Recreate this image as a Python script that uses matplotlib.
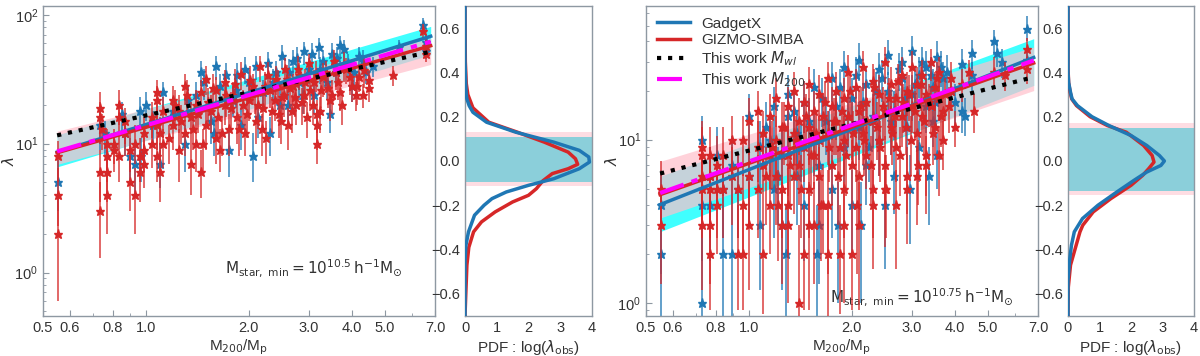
import numpy as np
import matplotlib
matplotlib.use('Agg')
from matplotlib import pyplot as plt
from matplotlib.ticker import FixedLocator, NullFormatter, LogLocator, FormatStrFormatter

plt.rcParams['font.family'] = ['Liberation Sans', 'DejaVu Sans']
plt.rcParams['mathtext.fontset'] = 'dejavusans'

# ---------------- left panel (Mstar,min = 10^10.5) ----------------
# GIZMO-SIMBA points: x, lambda, lower / upper end of error bar
rl_x = [0.554, 0.554, 0.554, 0.734, 0.734, 0.734, 0.734, 0.745, 0.771, 0.771, 0.771, 0.771,
        0.806, 0.806, 0.836, 0.836, 0.836, 0.868, 0.868, 0.90, 0.90, 0.929, 0.929, 0.96, 0.96,
        0.99, 0.99, 0.99, 1.039, 1.039, 1.075, 1.075, 1.075, 1.075, 1.10, 1.10, 1.124, 1.124,
        1.2, 1.2, 1.25, 1.25, 1.3, 1.3, 1.35, 1.35, 1.4, 1.4, 1.45, 1.45, 1.5, 1.5, 1.55, 1.6,
        1.6, 1.65, 1.7, 1.7, 1.75, 1.8, 1.85, 1.9, 1.95, 2.0, 2.05, 2.1, 2.15, 2.2, 2.25, 2.3,
        2.4, 2.45, 2.5, 2.55, 2.6, 2.7, 2.75, 2.8, 2.9, 2.95, 3.0, 3.1, 3.17, 3.17, 3.17, 3.25,
        3.35, 3.45, 3.55, 3.65, 3.75, 3.85, 4.0, 4.1, 4.2, 4.3, 4.5, 4.5, 5.28, 6.47, 6.6, 6.6,
        1.17, 1.22, 1.27, 1.32, 1.37, 1.42, 1.47, 1.52, 1.57, 1.62, 1.67, 1.72, 1.77, 1.82,
        1.87, 1.92, 1.97, 2.02, 2.08, 2.13, 2.18, 2.23, 2.28, 2.33, 2.38, 2.43, 2.48, 2.53,
        2.58, 2.63, 2.68, 2.73, 2.78, 2.85, 2.92, 3.02, 3.08, 3.14, 3.22, 3.3, 3.4, 3.5, 3.6,
        3.7, 3.8, 3.95, 4.15, 4.35]
rl_y = [8, 4, 2, 19, 16, 6, 3, 13, 10, 6, 4, 8,
        9, 10, 20, 16, 8, 12, 15, 5, 9, 4, 10, 8, 6,
        12, 9, 7, 16, 10, 25, 22, 14, 8, 6, 12, 18, 10,
        22, 14, 9, 18, 28, 12, 16, 7, 20, 10, 6, 25, 14, 32, 18, 11,
        26, 9, 20, 30, 13, 24, 16, 35, 12, 22, 28, 15, 40, 19, 11, 26,
        32, 17, 23, 38, 14, 28, 20, 34, 24, 16, 42, 30, 17, 14, 10, 26,
        36, 22, 44, 30, 20, 38, 28, 24, 33, 24, 31, 27, 34, 75, 57, 50,
        11, 20, 15, 24, 13, 17, 10, 21, 27, 16, 12, 24, 19, 29,
        13, 20, 17, 31, 25, 20, 13, 28, 34, 18, 22, 29, 15, 24,
        32, 27, 18, 23, 38, 21, 30, 26, 20, 35, 18, 33, 27, 24, 36,
        25, 41, 33, 28, 37]
rl_lo = [5, 2.3, 0.6, 13, 10, 3.5, 1.3, 9, 6, 3.5, 2, 5,
         6, 7, 14, 11, 5, 8, 10, 3, 6, 2, 7, 5, 3.5,
         8, 6, 4.5, 11, 6.5, 18, 15, 9, 5, 3.5, 8, 12, 6.5,
         15, 9, 5, 12, 20, 8, 10, 4, 14, 6, 3.8, 17, 9, 24, 12, 7,
         19, 6, 14, 22, 8, 17, 10, 26, 8, 15, 20, 10, 30, 13, 7, 19,
         24, 11, 16, 29, 9, 20, 14, 26, 17, 11, 32, 22, 12, 9, 7, 19,
         27, 15, 34, 22, 14, 29, 21, 18, 25, 19, 25, 21, 28, 65, 49, 43,
         7, 14, 10, 16, 9, 12, 6, 14, 18, 11, 8, 16, 13, 20,
         8, 14, 11, 21, 17, 13, 8, 19, 24, 12, 15, 20, 10, 16,
         22, 19, 12, 16, 27, 14, 21, 18, 14, 25, 12, 23, 19, 17, 26,
         18, 30, 24, 20, 27]
rl_hi = [10.5, 6.5, 4, 25, 21, 9, 5, 17, 13, 9, 6, 11,
         12, 13, 26, 21, 11, 16, 19, 8, 12, 6.5, 14, 11, 9,
         16, 12, 10, 21, 14, 31, 28, 18, 11, 9, 16, 23, 13,
         28, 19, 13, 24, 35, 16, 21, 10, 26, 14, 9, 31, 19, 40, 24, 15,
         33, 13, 26, 37, 17, 30, 21, 43, 17, 29, 35, 20, 48, 25, 15, 33,
         40, 22, 29, 46, 19, 35, 26, 42, 30, 21, 50, 37, 22, 18, 13, 33,
         44, 28, 53, 37, 26, 46, 35, 30, 40, 29, 37, 32, 40, 85, 65, 57,
         14, 26, 20, 31, 17, 22, 13, 27, 35, 21, 16, 31, 25, 38,
         17, 26, 22, 40, 32, 26, 17, 36, 43, 23, 29, 37, 20, 31,
         41, 35, 24, 30, 48, 27, 38, 33, 26, 44, 23, 42, 34, 31, 45,
         32, 51, 41, 35, 46]

# GadgetX points
bl_x = [0.554, 0.734, 0.76, 0.85, 0.87, 0.9, 0.93, 0.96, 0.97, 1.0, 1.05, 1.1, 1.12, 1.2,
        1.3, 1.4, 1.45, 1.55, 1.6, 1.65, 1.75, 1.8, 1.85, 1.9, 2.0, 2.05, 2.1, 2.2, 2.3, 2.4,
        2.5, 2.6, 2.7, 2.8, 2.9, 3.0, 3.1, 3.2, 3.3, 3.45, 3.5, 3.6, 3.7, 3.9, 4.0, 4.2, 4.4,
        4.6, 5.5, 6.47, 6.6, 6.6,
        1.33, 1.48, 1.58, 1.72, 1.83, 1.95, 2.12, 2.27, 2.36, 2.47, 2.62, 2.76, 2.88, 3.05,
        3.22, 3.38, 3.62, 3.8, 4.05, 4.3]
bl_y = [5, 14, 12, 17, 12, 8, 7, 18, 8, 20, 14, 7, 25, 18,
        10, 24, 36, 15, 40, 28, 9, 22, 34, 14, 30, 8, 40, 25, 12, 36,
        48, 20, 44, 30, 52, 38, 24, 56, 44, 17, 50, 36, 58, 42, 28, 48, 36,
        40, 56, 84, 62, 52,
        22, 30, 12, 34, 26, 38, 16, 42, 30, 20, 36, 46, 24, 50,
        38, 30, 46, 54, 36, 44]
bl_lo = [3, 9, 8, 12, 8, 5, 4, 13, 5, 15, 10, 4.5, 19, 13,
         6, 17, 28, 10, 31, 21, 5.5, 16, 26, 9, 22, 5, 31, 18, 8, 28,
         38, 14, 34, 22, 41, 29, 17, 45, 34, 12, 40, 28, 47, 33, 21, 39, 29,
         33, 48, 73, 54, 45,
         16, 22, 8, 26, 19, 29, 11, 32, 22, 14, 27, 36, 17, 39,
         29, 22, 36, 43, 28, 35]
bl_hi = [7.5, 18, 15, 21, 16, 11, 10, 23, 11, 25, 18, 10, 30, 23,
         14, 30, 44, 20, 48, 35, 13, 28, 42, 19, 37, 12, 48, 31, 16, 44,
         58, 26, 53, 37, 62, 46, 30, 66, 53, 22, 60, 44, 68, 50, 35, 56, 43,
         47, 64, 95, 70, 59,
         28, 38, 16, 42, 33, 47, 21, 51, 38, 26, 45, 56, 31, 60,
         47, 38, 56, 64, 44, 53]

# ---------------- right panel (Mstar,min = 10^10.75) ----------------
rr_x = [0.553, 0.553, 0.728, 0.728, 0.728, 0.728, 0.728, 0.77, 0.77, 0.77, 0.77, 0.77,
        0.805, 0.805, 0.805, 0.84, 0.84, 0.89, 0.89, 0.93, 0.93, 0.96, 0.96, 0.96,
        1.0, 1.0, 1.0, 1.06, 1.06, 1.06, 1.1, 1.1, 1.1, 1.15, 1.15, 1.15, 1.2, 1.2, 1.2,
        1.25, 1.25, 1.25, 1.3, 1.3, 1.3, 1.35, 1.35, 1.35, 1.4, 1.4, 1.4, 1.45, 1.45, 1.45,
        1.5, 1.5, 1.5, 1.55, 1.55, 1.55, 1.6, 1.6, 1.6, 1.65, 1.65, 1.7, 1.7, 1.7, 1.75, 1.75,
        1.8, 1.8, 1.85, 1.85, 1.9, 1.9, 1.9, 1.95, 1.95, 2.0, 2.0, 2.0, 2.05, 2.05, 2.1, 2.1,
        2.15, 2.15, 2.2, 2.2, 2.3, 2.3, 2.3, 2.4, 2.4, 2.5, 2.5, 2.5, 2.6, 2.6, 2.7, 2.7,
        2.8, 2.8, 2.9, 2.9, 3.0, 3.0, 3.1, 3.1, 3.2, 3.2, 3.3, 3.3, 3.4, 3.4, 3.5, 3.5,
        3.6, 3.6, 3.7, 3.7, 3.9, 3.9, 4.0, 4.2, 4.4, 4.55, 5.2, 5.6, 6.48, 6.48,
        1.12, 1.17, 1.22, 1.27, 1.32, 1.37, 1.42, 1.47, 1.52, 1.57, 1.62, 1.67, 1.72, 1.77,
        1.82, 1.87, 1.92, 1.97, 2.02, 2.07, 2.12, 2.17, 2.22, 2.27, 2.32, 2.37, 2.42, 2.47,
        2.52, 2.57, 2.62, 2.67, 2.72, 2.77, 2.82, 2.87, 2.93, 2.98, 3.05, 3.12, 3.18, 3.25,
        3.35, 3.45, 3.55, 3.65, 3.75, 3.85, 1.3, 1.5, 1.7, 1.9, 2.1, 2.3, 2.5, 2.7, 2.9,
        3.1, 3.3, 3.6]
rr_y = [5, 3, 9, 8, 6, 5, 3, 8, 6, 5, 3, 2,
        7, 5, 4, 8, 5, 10, 6, 5, 2, 10, 4, 2,
        13, 6, 3, 15, 9, 5, 11, 7, 2, 14, 8, 4, 18, 10, 6,
        12, 5, 3, 16, 8, 4, 20, 11, 6, 13, 7, 1, 17, 9, 2,
        22, 12, 5, 15, 8, 3, 10, 19, 6, 14, 4, 24, 11, 2, 16, 7,
        13, 20, 9, 2, 18, 10, 5, 26, 14, 12, 7, 2, 21, 9, 15, 6,
        28, 11, 17, 8, 23, 13, 5, 19, 10, 30, 15, 7, 22, 12, 18, 9,
        25, 14, 20, 6, 16, 28, 11, 22, 25, 14, 19, 8, 30, 16, 21, 12,
        26, 18, 15, 10, 24, 20, 12, 22, 26, 15, 26, 25, 36, 27,
        6, 9, 4, 12, 7, 10, 5, 14, 8, 11, 4, 17, 9, 13,
        6, 15, 8, 20, 11, 4, 16, 10, 13, 7, 21, 12, 9, 16,
        5, 18, 11, 14, 23, 8, 17, 12, 19, 10, 15, 7, 22, 13,
        17, 11, 24, 14, 19, 16, 3, 3, 4, 3, 3, 4, 5, 4, 5,
        6, 7, 8]
rr_lo = [3, 1.3, 5.5, 5, 3, 2.5, 1.2, 4.5, 3, 2.5, 1.3, 0.9,
         4, 2.5, 2, 4.5, 2.5, 6, 3, 2.5, 0.9, 6, 2, 0.9,
         8, 3, 1.2, 9, 5.5, 2.5, 6.5, 4, 0.85, 9, 5, 2, 12, 6, 3,
         7.5, 2.5, 1.3, 10, 4.5, 2, 13, 7, 3.5, 8, 4, 0.4, 11, 5.5, 0.9,
         15, 7, 2.5, 10, 5, 1.3, 6, 13, 3, 9, 2, 17, 7, 0.5, 10, 4,
         8, 14, 5.5, 0.85, 12, 6, 2.5, 18, 9, 7.5, 4, 0.9, 14, 5.5, 10, 3,
         20, 7, 11, 5, 16, 8, 2.5, 13, 6, 22, 10, 4, 15, 8, 12, 5.5,
         18, 9, 14, 3.5, 11, 20, 7, 16, 18, 9, 13, 4.5, 23, 11, 15, 8,
         19, 13, 10, 6.5, 18, 15, 9, 17, 21, 11, 21, 20, 30, 22,
         3, 5, 1.8, 7, 4, 6, 2.5, 9, 4.5, 6.5, 1.8, 11, 5.5, 8,
         3, 10, 4.5, 13, 7, 1.5, 10, 6, 8, 4, 14, 7.5, 5.5, 10,
         2.5, 12, 7, 9, 16, 4.5, 11, 8, 13, 6, 10, 4, 15, 8,
         12, 7, 17, 9, 13, 11, 1.0, 0.9, 1.5, 1.0, 0.9, 1.6, 2.2, 1.6, 2.3,
         3, 3.5, 4.5]
rr_hi = [7.4, 5, 13, 12, 9, 8, 5.5, 12, 9, 8, 5.5, 4,
         10.5, 8, 6.5, 12, 8, 14, 9, 8, 4, 14, 6.5, 4,
         18, 9, 5.5, 20, 13, 8, 15, 10.5, 4, 19, 12, 6.5, 24, 14, 9,
         17, 8, 5.5, 21, 12, 6.5, 26, 15, 9, 18, 10.5, 3, 23, 13, 4,
         28, 17, 8, 20, 12, 5.5, 14, 25, 9, 19, 7, 30, 15, 4, 21, 10.5,
         18, 26, 13, 4, 24, 14, 8, 33, 19, 17, 10, 4, 27, 13, 20, 9,
         35, 15, 23, 12, 29, 18, 8, 25, 14, 37, 20, 10.5, 28, 16, 24, 13,
         32, 19, 26, 9, 21, 35, 15, 28, 31, 18, 24, 12, 36, 21, 26, 16,
         32, 23, 19, 13, 30, 25, 15, 27, 31, 19, 32, 30, 42, 32,
         9, 13, 6.5, 17, 10.5, 14, 8, 19, 12, 15, 6.5, 23, 13, 18,
         9, 20, 12, 26, 15, 6.5, 21, 14, 18, 10.5, 27, 17, 13, 21,
         8, 24, 15, 19, 29, 12, 22, 16, 25, 14, 20, 10, 28, 18,
         22, 15, 30, 19, 24, 21, 5.5, 5.5, 6.5, 5.5, 5.5, 6.5, 8, 6.5, 8,
         9, 10.5, 12]

br_x = [0.553, 0.553, 0.728, 0.728, 0.728, 0.77, 0.77, 0.805, 0.84, 0.84, 0.89, 0.89, 0.93,
        1.0, 1.0, 1.08, 1.08, 1.12, 1.18, 1.18, 1.25, 1.25, 1.3, 1.3, 1.38, 1.38, 1.45, 1.45,
        1.55, 1.55, 1.6, 1.6, 1.68, 1.75, 1.75, 1.8, 1.9, 1.9, 2.0, 2.0, 2.1, 2.1, 2.2, 2.2,
        2.3, 2.4, 2.4, 2.55, 2.55, 2.65, 2.65, 2.8, 2.8, 2.9, 3.0, 3.0, 3.15, 3.15, 3.3, 3.3,
        3.45, 3.45, 3.55, 3.55, 3.7, 3.9, 4.0, 4.2, 4.2, 4.28, 4.5, 4.5, 5.2, 5.3, 5.5, 6.48, 6.48,
        1.15, 1.22, 1.35, 1.42, 1.5, 1.63, 1.72, 1.85, 1.95, 2.05, 2.15, 2.25, 2.35, 2.45,
        2.6, 2.75, 2.85, 3.05, 3.2, 3.4, 3.5, 3.65, 3.8, 1.28, 1.58, 1.82, 2.12, 2.5, 2.95, 3.35]
br_y = [4, 2, 10, 4, 1, 4, 6, 8, 5, 2, 2, 7, 5,
        6, 14, 3, 9, 12, 5, 16, 8, 3, 14, 19, 6, 11, 4, 17,
        10, 21, 7, 3, 13, 5, 24, 16, 9, 28, 18, 4, 12, 31, 22, 7,
        14, 27, 10, 20, 33, 15, 6, 24, 30, 12, 19, 35, 25, 9, 16, 28,
        21, 13, 32, 8, 24, 20, 17, 29, 15, 14, 34, 25, 40, 34, 30, 48, 31,
        10, 6, 15, 9, 13, 18, 11, 21, 14, 25, 17, 9, 20, 24,
        13, 27, 18, 22, 30, 25, 17, 28, 26, 2, 2, 3, 3, 4, 5, 6]
br_lo = [1.5, 0.7, 6, 1.8, 0.5, 1.8, 3, 4.5, 2.5, 0.7, 0.7, 4, 2.5,
         3, 9, 1.2, 5.5, 7.5, 2.5, 10, 4.5, 1.2, 9, 13, 3, 7, 1.8, 11,
         6, 14, 4, 1.3, 8, 2.5, 17, 10, 5.5, 20, 12, 2, 7.5, 23, 15, 4,
         9, 19, 6, 14, 25, 10, 3.5, 17, 22, 7.5, 13, 27, 18, 5.5, 11, 21,
         15, 9, 25, 5, 18, 15, 12, 23, 11, 10.5, 27, 20, 33, 28, 24, 40, 26,
         6, 3, 9.5, 5.5, 8, 12, 6.5, 14, 9, 18, 11, 5.5, 14, 17,
         8, 20, 12, 16, 22, 18, 11, 21, 19, 0.6, 0.6, 1.0, 1.0, 1.6, 2.3, 3]
br_hi = [6.5, 4, 14, 6.5, 2.5, 6.5, 9, 12, 8, 4, 4, 10.5, 8,
         9, 19, 5.5, 13, 17, 8, 21, 12, 5.5, 19, 25, 9, 15, 6.5, 23,
         14, 27, 10.5, 5.5, 18, 8, 30, 21, 13, 35, 24, 6.5, 17, 39, 28, 10.5,
         19, 34, 14, 26, 41, 20, 9, 30, 37, 17, 25, 43, 32, 13, 21, 35,
         27, 17, 40, 11, 30, 26, 22, 36, 19, 18, 41, 30, 47, 41, 36, 57, 36,
         14, 9, 20, 13, 18, 24, 15, 27, 19, 32, 22, 13, 26, 31,
         18, 34, 24, 28, 37, 32, 22, 35, 33, 4, 4, 5.5, 5.5, 6.5, 8, 9]

# fit lines and bands, given at the two ends of the mass range
fit_x = [0.55, 6.8]
l_gx_fit = [8.6, 68.1]
l_gz_fit = [8.5, 57.5]
l_wl_fit = [11.6, 51.7]
l_m200_fit = [8.7, 61.9]
l_gx_lo, l_gx_hi = [6.6, 49.0], [11.7, 81.3]
l_gz_lo, l_gz_hi = [6.9, 41.2], [12.5, 65.7]

r_gx_fit = [4.0, 31.9]
r_gz_fit = [4.6, 29.5]
r_wl_fit = [6.2, 24.2]
r_m200_fit = [4.71, 30.6]
r_gx_lo, r_gx_hi = [2.73, 21.5], [5.96, 41.6]
r_gz_lo, r_gz_hi = [3.31, 20.0], [7.36, 37.0]

# PDFs of log(lambda_obs) residuals
pdf_l_gx_y = [0.70, 0.45, 0.35, 0.30, 0.28, 0.25, 0.22, 0.175, 0.13, 0.085, 0.048, 0.018,
              -0.005, -0.035, -0.08, -0.11, -0.14, -0.17, -0.20, -0.245, -0.32, -0.38, -0.45, -0.70]
pdf_l_gx_x = [0, 0, 0.02, 0.04, 0.06, 0.13, 0.25, 0.68, 1.6, 2.8, 3.6, 3.9,
              3.92, 3.6, 2.8, 2.0, 1.3, 0.85, 0.6, 0.3, 0.11, 0.03, 0, 0]
pdf_l_gz_y = [0.70, 0.45, 0.35, 0.30, 0.24, 0.175, 0.13, 0.085, 0.04, 0.01, -0.015, -0.035,
              -0.057, -0.09, -0.125, -0.155, -0.185, -0.23, -0.275, -0.32, -0.39, -0.47, -0.62, -0.70]
pdf_l_gz_x = [0, 0.01, 0.04, 0.09, 0.25, 0.75, 1.65, 2.5, 3.25, 3.48, 3.55, 3.25,
              2.75, 2.45, 2.25, 2.0, 1.5, 0.95, 0.52, 0.27, 0.12, 0.06, 0.02, 0]
pdf_r_gx_y = [0.70, 0.40, 0.354, 0.31, 0.28, 0.25, 0.20, 0.16, 0.115, 0.07, 0.025, 0.0,
              -0.02, -0.05, -0.087, -0.14, -0.20, -0.26, -0.32, -0.38, -0.45, -0.54, -0.70]
pdf_r_gx_x = [0, 0, 0.02, 0.08, 0.13, 0.3, 0.76, 1.3, 2.0, 2.5, 2.9, 3.06,
              2.95, 2.5, 2.1, 1.55, 0.95, 0.46, 0.2, 0.11, 0.05, 0, 0]
pdf_r_gz_y = [0.70, 0.42, 0.354, 0.31, 0.28, 0.25, 0.20, 0.16, 0.13, 0.07, 0.025, -0.005,
              -0.035, -0.065, -0.11, -0.17, -0.23, -0.29, -0.32, -0.36, -0.41, -0.47, -0.57, -0.70]
pdf_r_gz_x = [0, 0, 0.02, 0.07, 0.12, 0.27, 0.7, 1.25, 1.85, 2.4, 2.67, 2.73,
              2.56, 2.37, 2.0, 1.36, 0.8, 0.47, 0.38, 0.3, 0.2, 0.08, 0.01, 0]
l_band_outer, l_band_inner = [-0.115, 0.13], [-0.095, 0.11]
r_band_outer, r_band_inner = [-0.153, 0.17], [-0.135, 0.148]

xtick_major = [0.5, 0.6, 0.8, 1.0, 2.0, 3.0, 4.0, 5.0, 7.0]
xtick_minor = [0.7, 0.9, 6.0]

BLUE = '#1f77b4'
RED = '#d62728'
SPINE = '#8e98a2'
TXT = '#333333'


def style(ax):
    for s in ax.spines.values():
        s.set_color(SPINE)
        s.set_linewidth(1.0)
    ax.tick_params(which='both', direction='in', colors=SPINE, labelcolor=TXT, labelsize=10.5)
    ax.tick_params(which='major', length=4)
    ax.tick_params(which='minor', length=2.5)


def scatter_panel(ax, bx, by, blo, bhi, rx, ry, rlo, rhi, fits, bands, ylim, note, note_xy):
    gfit, zfit, wfit, mfit = fits
    glo, ghi, zlo, zhi = bands
    ax.fill_between(fit_x, glo, ghi, color='cyan', alpha=0.75, lw=0, zorder=1)
    ax.fill_between(fit_x, zlo, zhi, color='pink', alpha=0.7, lw=0, zorder=1)
    by = np.array(by, float)
    ry = np.array(ry, float)
    ax.errorbar(bx, by, yerr=[by - np.array(blo), np.array(bhi) - by], fmt='none',
                ecolor=BLUE, elinewidth=1.4, alpha=0.7, zorder=2)
    ax.plot(bx, by, '*', color=BLUE, ms=6.5, zorder=3)
    ax.errorbar(rx, ry, yerr=[ry - np.array(rlo), np.array(rhi) - ry], fmt='none',
                ecolor=RED, elinewidth=1.4, alpha=0.7, zorder=4)
    ax.plot(rx, ry, '*', color=RED, ms=6.5, zorder=5)
    ax.plot(fit_x, gfit, '-', color=BLUE, lw=2.5, zorder=6, label='GadgetX')
    ax.plot(fit_x, zfit, '-', color=RED, lw=2.5, zorder=6, label='GIZMO-SIMBA')
    ax.plot(fit_x, wfit, ':', color='black', lw=3, zorder=7, label=r'This work $M_{wl}$')
    ax.plot(fit_x, mfit, color='magenta', lw=3, ls=(0, (6, 2, 1.5, 2)), zorder=7,
            label=r'This work $M_{200}$')
    ax.set_xscale('log')
    ax.set_yscale('log')
    ax.set_xlim(0.5, 7.0)
    ax.set_ylim(*ylim)
    ax.xaxis.set_major_locator(FixedLocator(xtick_major))
    ax.xaxis.set_major_formatter(FormatStrFormatter('%.1f'))
    ax.xaxis.set_minor_locator(FixedLocator(xtick_minor))
    ax.xaxis.set_minor_formatter(NullFormatter())
    ax.yaxis.set_major_locator(LogLocator(base=10))
    ax.yaxis.set_minor_locator(LogLocator(base=10, subs=np.arange(2, 10)))
    ax.yaxis.set_minor_formatter(NullFormatter())
    style(ax)
    ax.set_xlabel(r'M$_{200}$/M$_{\rm p}$', color=TXT, fontsize=11, labelpad=2)
    ax.set_ylabel(r'$\lambda$', color=TXT, fontsize=11)
    ax.yaxis.set_label_coords(-0.066, 0.5)
    ax.text(note_xy[0], note_xy[1], note, transform=ax.transAxes, ha='right', va='center',
            color=TXT, fontsize=11)


def pdf_panel(ax, gx_x, gx_y, gz_x, gz_y, outer, inner):
    ax.fill_between([0, 4], outer[0], outer[1], color='#fedde3', lw=0, zorder=1)
    ax.fill_between([0, 4], inner[0], inner[1], color='#8bcfda', lw=0, zorder=2)
    ax.plot(gz_x, gz_y, color=RED, lw=2.5, zorder=3)
    ax.plot(gx_x, gx_y, color=BLUE, lw=2.5, zorder=4)
    ax.set_xlim(0, 4)
    ax.set_ylim(-0.7, 0.7)
    ax.set_xticks([0, 1, 2, 3, 4])
    ax.set_yticks([-0.6, -0.4, -0.2, 0.0, 0.2, 0.4, 0.6])
    ax.set_yticklabels(['\u22120.6', '\u22120.4', '\u22120.2', '0.0', '0.2', '0.4', '0.6'])
    style(ax)
    ax.tick_params(which='major', length=0)
    ax.set_xlabel(r'PDF : log($\lambda_{\rm obs}$)', color=TXT, fontsize=11, labelpad=2)


fig = plt.figure(figsize=(12, 3.56), dpi=100)
ax1 = fig.add_axes([0.0358, 0.1124, 0.3267, 0.8708])
ax2 = fig.add_axes([0.3875, 0.1124, 0.1058, 0.8708])
ax3 = fig.add_axes([0.5383, 0.1124, 0.3267, 0.8708])
ax4 = fig.add_axes([0.8900, 0.1124, 0.1050, 0.8708])

scatter_panel(ax1, bl_x, bl_y, bl_lo, bl_hi, rl_x, rl_y, rl_lo, rl_hi,
              (l_gx_fit, l_gz_fit, l_wl_fit, l_m200_fit),
              (l_gx_lo, l_gx_hi, l_gz_lo, l_gz_hi), (0.46, 117),
              r'$\mathrm{M_{star,\ min}=10^{10.5}\,h^{-1}M_{\odot}}$', (0.918, 0.155))
pdf_panel(ax2, pdf_l_gx_x, pdf_l_gx_y, pdf_l_gz_x, pdf_l_gz_y, l_band_outer, l_band_inner)

scatter_panel(ax3, br_x, br_y, br_lo, br_hi, rr_x, rr_y, rr_lo, rr_hi,
              (r_gx_fit, r_gz_fit, r_wl_fit, r_m200_fit),
              (r_gx_lo, r_gx_hi, r_gz_lo, r_gz_hi), (0.83, 66),
              r'$\mathrm{M_{star,\ min}=10^{10.75}\,h^{-1}M_{\odot}}$', (0.938, 0.06))
pdf_panel(ax4, pdf_r_gx_x, pdf_r_gx_y, pdf_r_gz_x, pdf_r_gz_y, r_band_outer, r_band_inner)

leg = ax3.legend(loc='upper left', frameon=False, fontsize=11, handlelength=2.2,
                 borderaxespad=0.3, labelspacing=0.15, handletextpad=0.7)
for t in leg.get_texts():
    t.set_color(TXT)

fig.savefig('out.png', dpi=100)
